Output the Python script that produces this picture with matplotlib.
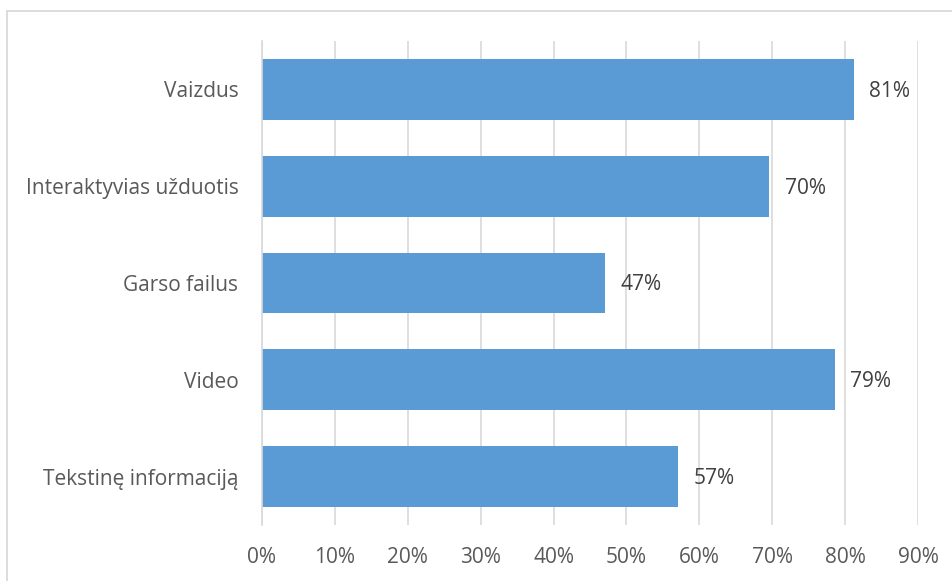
import matplotlib.pyplot as plt
from matplotlib.patches import Rectangle
from matplotlib.ticker import FuncFormatter

plt.rcParams['font.family'] = ['Open Sans', 'DejaVu Sans']

# categories top to bottom
categories = ["Vaizdus", "Interaktyvias užduotis", "Garso failus", "Video", "Tekstinę informaciją"]
values = [0.812, 0.696, 0.471, 0.786, 0.571]
labels = ["81%", "70%", "47%", "79%", "57%"]

fig = plt.figure(figsize=(9.52, 5.81), dpi=100)
ax = fig.add_axes([262 / 952, 1 - 525 / 581, (918 - 262) / 952, (525 - 41) / 581])

ypos = list(range(len(categories)))[::-1]
ax.barh(ypos, values, height=0.63, color="#5B9BD5", zorder=3)

for y, v, lab in zip(ypos, values, labels):
    ax.text(v + 0.021, y - 0.02, lab, va="center", ha="left", fontsize=15, color="#404040")

ax.set_xlim(0, 0.9)
ax.set_ylim(-0.5, len(categories) - 0.5)
ax.set_xticks([i / 10 for i in range(10)])
ax.xaxis.set_major_formatter(FuncFormatter(lambda x, _: f"{x * 100:.0f}%"))
ax.set_yticks(ypos)
ax.set_yticklabels(categories)
ax.tick_params(axis="both", length=0, labelsize=15, labelcolor="#595959")
ax.tick_params(axis="y", pad=17)
ax.tick_params(axis="x", pad=16)
ax.grid(axis="x", color="#D9D9D9", linewidth=1.2, zorder=0)

for side in ["top", "right", "bottom"]:
    ax.spines[side].set_visible(False)
ax.spines["left"].set_color("#D9D9D9")
ax.spines["left"].set_linewidth(1.2)
ax.spines["left"].set_zorder(4)

# chart border
fig.patches.append(Rectangle((7 / 952, -0.1), 1.2, 1 - 11 / 581 + 0.1, transform=fig.transFigure,
                             fill=False, edgecolor="#D9D9D9", linewidth=1.3))

fig.savefig("out.png", dpi=100)
